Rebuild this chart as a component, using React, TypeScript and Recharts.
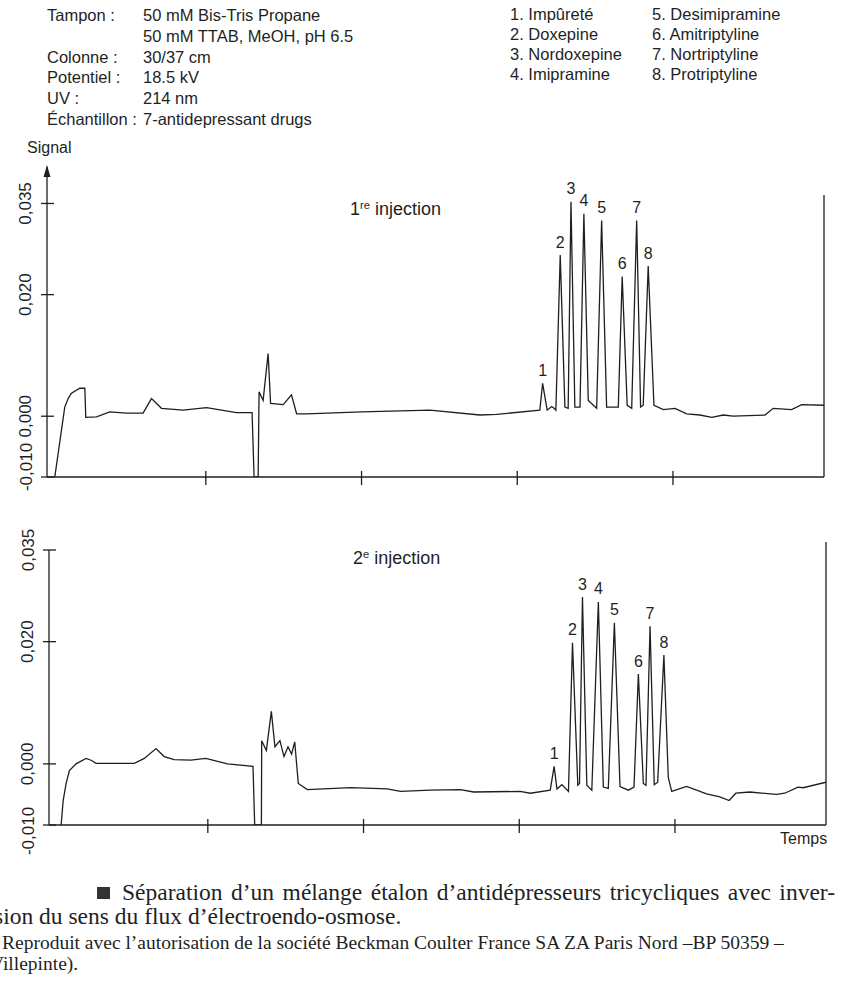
import React from 'react'
import {
  ComposedChart,
  Line,
  Scatter,
  XAxis,
  YAxis,
  ReferenceLine,
  ReferenceDot,
} from 'recharts'

const INK = '#1f1f1f'
const SANS = '"Liberation Sans", Arial, Helvetica, sans-serif'
const SERIF = '"Liberation Serif", "Times New Roman", serif'

// conditions block and compound list
const conditionLabels = ['Tampon :', '', 'Colonne :', 'Potentiel :', 'UV :', 'Échantillon :']
const conditionValues = [
  '50 mM Bis-Tris Propane',
  '50 mM TTAB, MeOH, pH 6.5',
  '30/37 cm',
  '18.5 kV',
  '214 nm',
  '7-antidepressant drugs',
]
const compounds = [
  '1. Impûreté',
  '2. Doxepine',
  '3. Nordoxepine',
  '4. Imipramine',
  '5. Desimipramine',
  '6. Amitriptyline',
  '7. Nortriptyline',
  '8. Protriptyline',
]
const peakIds = ['1', '2', '3', '4', '5', '6', '7', '8']

// axes
const timeDomain: [number, number] = [-0.02, 4.97]
const timeTicks = [1, 2, 3, 4]
const signalTicks = [-0.01, 0, 0.02, 0.035]
const signalTickLabels = ['-0,010', '0,000', '0,020', '0,035']

// 1re injection
const run1Time = [
  0.03, 0.094, 0.116, 0.137, 0.191, 0.223, 0.229, 0.298, 0.383, 0.491, 0.597, 0.651, 0.715,
  0.854, 1.005, 1.197, 1.297, 1.31, 1.336, 1.342, 1.368, 1.4, 1.416, 1.497, 1.55, 1.583, 1.647,
  2.0, 2.439, 2.76, 2.867, 3.145, 3.163, 3.192, 3.221, 3.236, 3.248, 3.276, 3.306, 3.327, 3.345,
  3.37, 3.403, 3.428, 3.456, 3.51, 3.542, 3.574, 3.649, 3.674, 3.706, 3.735, 3.767, 3.792, 3.809,
  3.841, 3.878, 3.938, 4.013, 4.088, 4.173, 4.249, 4.323, 4.387, 4.591, 4.644, 4.762, 4.827, 4.97,
]
const run1Signal = [
  -0.01, 0.0015, 0.0029, 0.0038, 0.0046, 0.0046, -0.0002, -0.0001, 0.0007, 0.0005, 0.0005, 0.0029,
  0.0013, 0.001, 0.0014, 0.0006, 0.0006, -0.01, -0.01, 0.004, 0.0026, 0.0103, 0.0021, 0.0019,
  0.0035, 0.0004, 0.0004, 0.0007, 0.001, 0.0002, 0.0003, 0.001, 0.0054, 0.001, 0.0016, 0.0013,
  0.001, 0.0265, 0.0015, 0.0013, 0.0353, 0.0015, 0.0015, 0.0333, 0.0026, 0.0013, 0.0322, 0.0015,
  0.0015, 0.023, 0.0018, 0.0013, 0.0322, 0.0015, 0.0018, 0.0247, 0.0018, 0.0011, 0.0013, 0.0004,
  0.0002, -0.0002, 0.0002, 0.0, 0.0002, 0.0013, 0.0011, 0.0019, 0.0018,
]
const run1PeakTimes = [3.163, 3.276, 3.345, 3.428, 3.542, 3.674, 3.767, 3.841]

// 2e injection
const run2Time = [
  0.058, 0.071, 0.09, 0.111, 0.154, 0.218, 0.25, 0.282, 0.528, 0.592, 0.667, 0.72, 0.784, 0.891,
  0.987, 1.126, 1.29, 1.301, 1.344, 1.346, 1.376, 1.408, 1.431, 1.463, 1.489, 1.515, 1.538, 1.558,
  1.581, 1.639, 1.917, 2.152, 2.237, 2.429, 2.622, 2.707, 3.006, 3.071, 3.199, 3.224, 3.242, 3.274,
  3.316, 3.342, 3.376, 3.387, 3.406, 3.434, 3.466, 3.508, 3.54, 3.572, 3.611, 3.647, 3.701, 3.737,
  3.765, 3.797, 3.814, 3.84, 3.867, 3.889, 3.929, 3.957, 3.979, 4.075, 4.203, 4.288, 4.348, 4.391,
  4.481, 4.652, 4.705, 4.79, 4.823, 4.97,
]
const run2Signal = [
  -0.01, -0.006, -0.0032, -0.0011, 0.0, 0.0009, 0.0006, 0.0001, 0.0001, 0.0009, 0.0025, 0.0012,
  0.0007, 0.0006, 0.0009, 0.0, -0.0004, -0.01, -0.01, 0.0038, 0.0022, 0.0086, 0.0028, 0.0038,
  0.0012, 0.0028, 0.0016, 0.0036, -0.0032, -0.0042, -0.0039, -0.0041, -0.0045, -0.0043, -0.0042,
  -0.0046, -0.0045, -0.0048, -0.0043, -0.0004, -0.0041, -0.0034, -0.0045, 0.0198, -0.0035,
  -0.0032, 0.0273, -0.0035, -0.0043, 0.0265, -0.0038, -0.004, 0.0231, -0.0037, -0.0043, -0.0038,
  0.0147, -0.0032, -0.0035, 0.0225, -0.0034, -0.003, 0.0178, -0.0022, -0.0045, -0.0037, -0.0049,
  -0.0054, -0.006, -0.0048, -0.0046, -0.005, -0.0048, -0.0038, -0.0039, -0.003,
]
const run2PeakTimes = [3.224, 3.342, 3.406, 3.508, 3.611, 3.765, 3.84, 3.929]

const toRows = (times: number[], signal: number[]) =>
  times.map((t, i) => ({ t, v: signal[i] }))

const toPeaks = (times: number[], signal: number[], peakTimes: number[]) =>
  peakTimes.map((pt, i) => {
    const k = times.indexOf(pt)
    return { t: times[k], v: signal[k], id: peakIds[i] }
  })

function TimeTick(props: any) {
  const { x, y } = props
  return <line x1={x} x2={x} y1={y - 6} y2={y + 8} stroke={INK} strokeWidth={1.3} />
}

function SignalTick(props: any) {
  const { x, y, payload, lowShift = 0 } = props
  const label = signalTickLabels[signalTicks.indexOf(payload.value)]
  const lx = x - 21
  const ly = payload.value < 0 ? y + lowShift : y
  return (
    <g>
      <line x1={x - 6} x2={x + 7} y1={y} y2={y} stroke={INK} strokeWidth={1.3} />
      <text
        x={lx}
        y={ly}
        transform={`rotate(-90 ${lx} ${ly})`}
        textAnchor="middle"
        dominantBaseline="central"
        fontSize={17}
        fontFamily={SANS}
        fill={INK}
      >
        {label}
      </text>
    </g>
  )
}

function PeakLabel(props: any) {
  const { cx, cy, payload } = props
  return (
    <text
      x={cx}
      y={cy - 13}
      textAnchor="middle"
      dominantBaseline="central"
      fontSize={16}
      fontFamily={SANS}
      fill={INK}
    >
      {payload.id}
    </text>
  )
}

function ArrowHead(props: any) {
  const { cx, cy } = props
  return <path d={`M${cx},${cy - 2} L${cx - 3.5},${cy + 10} L${cx + 3.5},${cy + 10} Z`} fill={INK} />
}

interface PanelProps {
  top: number
  height: number
  margin: { top: number; right: number; bottom: number; left: number }
  yWidth: number
  yDomain: [number, number]
  times: number[]
  signal: number[]
  peakTimes: number[]
  borderTop: number
  lowShift: number
  arrow?: boolean
}

function Panel({
  top,
  height,
  margin,
  yWidth,
  yDomain,
  times,
  signal,
  peakTimes,
  borderTop,
  lowShift,
  arrow,
}: PanelProps) {
  const rows = toRows(times, signal)
  const peaks = toPeaks(times, signal, peakTimes)
  return (
    <div style={{ position: 'absolute', left: 0, top }}>
      <ComposedChart width={859} height={height} margin={margin} style={{ overflow: 'visible' }}>
        <XAxis
          type="number"
          dataKey="t"
          domain={timeDomain}
          allowDataOverflow
          ticks={timeTicks}
          interval={0}
          height={20}
          tickLine={false}
          tickSize={0}
          tickMargin={0}
          tick={<TimeTick />}
          axisLine={{ stroke: INK, strokeWidth: 1.3 }}
        />
        <YAxis
          type="number"
          domain={yDomain}
          allowDataOverflow
          ticks={signalTicks}
          interval={0}
          width={yWidth}
          tickLine={false}
          tickSize={0}
          tickMargin={0}
          tick={<SignalTick lowShift={lowShift} />}
          axisLine={{ stroke: INK, strokeWidth: 1.3 }}
        />
        <ReferenceLine
          segment={[
            { x: timeDomain[1], y: borderTop },
            { x: timeDomain[1], y: yDomain[0] },
          ]}
          stroke={INK}
          strokeWidth={1.3}
          ifOverflow="visible"
        />
        {arrow && (
          <ReferenceDot
            x={timeDomain[0]}
            y={yDomain[1]}
            r={0}
            ifOverflow="visible"
            shape={<ArrowHead />}
          />
        )}
        <Line
          data={rows}
          dataKey="v"
          type="linear"
          stroke={INK}
          strokeWidth={1.3}
          dot={false}
          activeDot={false}
          isAnimationActive={false}
        />
        <Scatter data={peaks} dataKey="v" shape={<PeakLabel />} isAnimationActive={false} />
      </ComposedChart>
    </div>
  )
}

function Txt({
  x,
  y,
  size = 16.5,
  font = SANS,
  children,
  style,
}: {
  x: number
  y: number
  size?: number
  font?: string
  children: React.ReactNode
  style?: React.CSSProperties
}) {
  return (
    <div
      style={{
        position: 'absolute',
        left: x,
        top: y - size * 0.53,
        fontSize: size,
        lineHeight: `${size}px`,
        fontFamily: font,
        color: INK,
        whiteSpace: 'nowrap',
        ...style,
      }}
    >
      {children}
    </div>
  )
}

export default function App() {
  const sup: React.CSSProperties = { fontSize: '0.62em', verticalAlign: '0.55em' }
  return (
    <div
      style={{
        position: 'absolute',
        left: 0,
        top: 0,
        width: 859,
        height: 989,
        background: '#fff',
        overflow: 'hidden',
      }}
    >
      {conditionLabels.map((l, i) => (
        <Txt key={'l' + i} x={47} y={15.5 + i * 20.9}>
          {l}
        </Txt>
      ))}
      {conditionValues.map((v, i) => (
        <Txt key={'v' + i} x={143} y={15.5 + i * 20.9}>
          {v}
        </Txt>
      ))}
      {compounds.map((c, i) => (
        <Txt key={'c' + i} x={i < 4 ? 510 : 652} y={15 + (i % 4) * 20}>
          {c}
        </Txt>
      ))}
      <Txt x={27} y={148} size={16}>
        Signal
      </Txt>

      <Panel
        top={0}
        height={500}
        margin={{ top: 167, right: 35, bottom: 3, left: 0 }}
        yWidth={47}
        yDomain={[-0.01, 0.041]}
        times={run1Time}
        signal={run1Signal}
        peakTimes={run1PeakTimes}
        borderTop={0.0364}
        lowShift={-10}
        arrow
      />
      <Panel
        top={500}
        height={360}
        margin={{ top: 50, right: 33, bottom: 15, left: 0 }}
        yWidth={49}
        yDomain={[-0.01, 0.035]}
        times={run2Time}
        signal={run2Signal}
        peakTimes={run2PeakTimes}
        borderTop={0.0363}
        lowShift={6}
      />

      <Txt x={350} y={206} size={18}>
        1<span style={sup}>re</span> injection
      </Txt>
      <Txt x={353} y={555} size={18}>
        2<span style={sup}>e</span> injection
      </Txt>
      <Txt x={780} y={839} size={16}>
        Temps
      </Txt>

      <div
        style={{ position: 'absolute', left: 97, top: 887, width: 13, height: 12, background: '#333' }}
      />
      <Txt
        x={122}
        y={893}
        size={23.5}
        font={SERIF}
        style={{ width: 713, whiteSpace: 'normal', textAlign: 'justify', textAlignLast: 'justify' }}
      >
        Séparation d’un mélange étalon d’antidépresseurs tricycliques avec inver-
      </Txt>
      <Txt x={-6} y={917} size={23.5} font={SERIF}>
        sion du sens du flux d’électroendo-osmose.
      </Txt>
      <Txt x={2} y={943} size={19.5} font={SERIF}>
        Reproduit avec l’autorisation de la société Beckman Coulter France SA ZA Paris Nord –BP 50359 –
      </Txt>
      <Txt x={-10} y={964} size={19.5} font={SERIF}>
        Villepinte).
      </Txt>
    </div>
  )
}
